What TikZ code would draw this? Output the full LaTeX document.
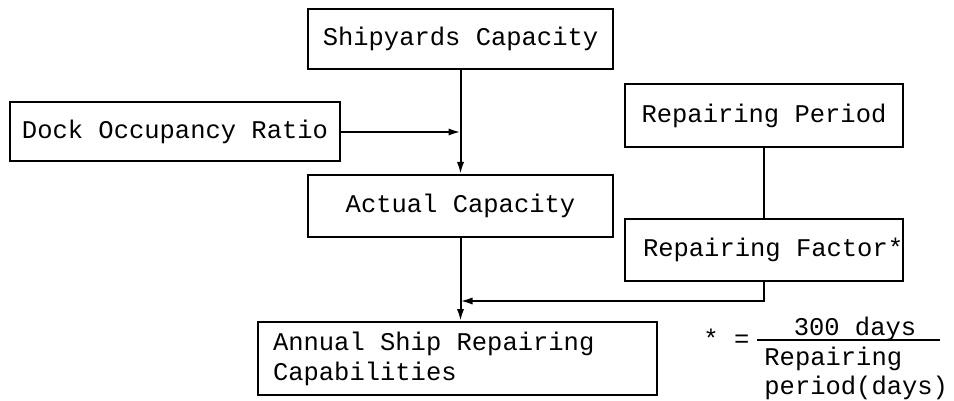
\documentclass[tikz,border=0pt]{standalone}
\usepackage{fontspec}
\setmainfont{Liberation Mono}
\usetikzlibrary{arrows.meta,calc}

\tikzset{
  box/.style={draw, line width=1pt, inner sep=0pt, align=center,
              font=\fontsize{12.75pt}{15pt}\selectfont},
  link/.style={line width=1pt},
  flow/.style={line width=1pt, -{Latex[length=6pt,width=3.6pt]}},
  note/.style={inner sep=0pt, font=\fontsize{12.75pt}{14.5pt}\selectfont}
}

\begin{document}
\begin{tikzpicture}[x=0.5pt, y=-0.5pt]
  \useasboundingbox (0,0) rectangle (954,401);

  % inputs and intermediate quantities
  \node[box, minimum width=152.5pt, minimum height=30pt] (sc) at (460.5,39) {Shipyards Capacity};
  \node[box, minimum width=165pt, minimum height=29.5pt] (dock) at (175,132) {Dock Occupancy Ratio};
  \node[box, minimum width=152.5pt, minimum height=31pt] (ac) at (460.5,206) {Actual Capacity};
  \node[box, minimum width=139pt, minimum height=31.5pt] (rp) at (764,115.5) {Repairing Period};
  \node[box, minimum width=139pt, minimum height=31pt, inner xsep=9pt] (rf) at (764,250)
       {\makebox[121pt][l]{Repairing Factor*}};

  % result
  \node[box, minimum width=199.5pt, minimum height=36.5pt, inner xsep=7.5pt, align=left] (an) at (457.5,358.5)
       {\makebox[184.5pt][l]{Annual Ship Repairing}\\\makebox[184.5pt][l]{Capabilities}};

  % connectors
  \draw[flow] (sc.south) -- (ac.north);
  \draw[flow] (dock.east) -- (dock.east -| sc.south);
  \draw[flow] (ac.south) -- (ac.south |- an.north);
  \draw[link] (rp.south) -- (rf.north);
  \coordinate (j) at (764,301);
  \draw[flow] (rf.south) -- (j) -- (j -| ac.south);

  % definition of the repairing factor
  \node[note, anchor=base west] (eq) at (703,347) {* =};
  \draw[link] (757,340) coordinate (fl) -- (940,340) coordinate (fr);
  \node[note, anchor=base] (num) at (855,335) {300 days};
  \node[note, anchor=base west, align=left] (den) at (764,394) {Repairing\\period(days)};
\end{tikzpicture}
\end{document}
